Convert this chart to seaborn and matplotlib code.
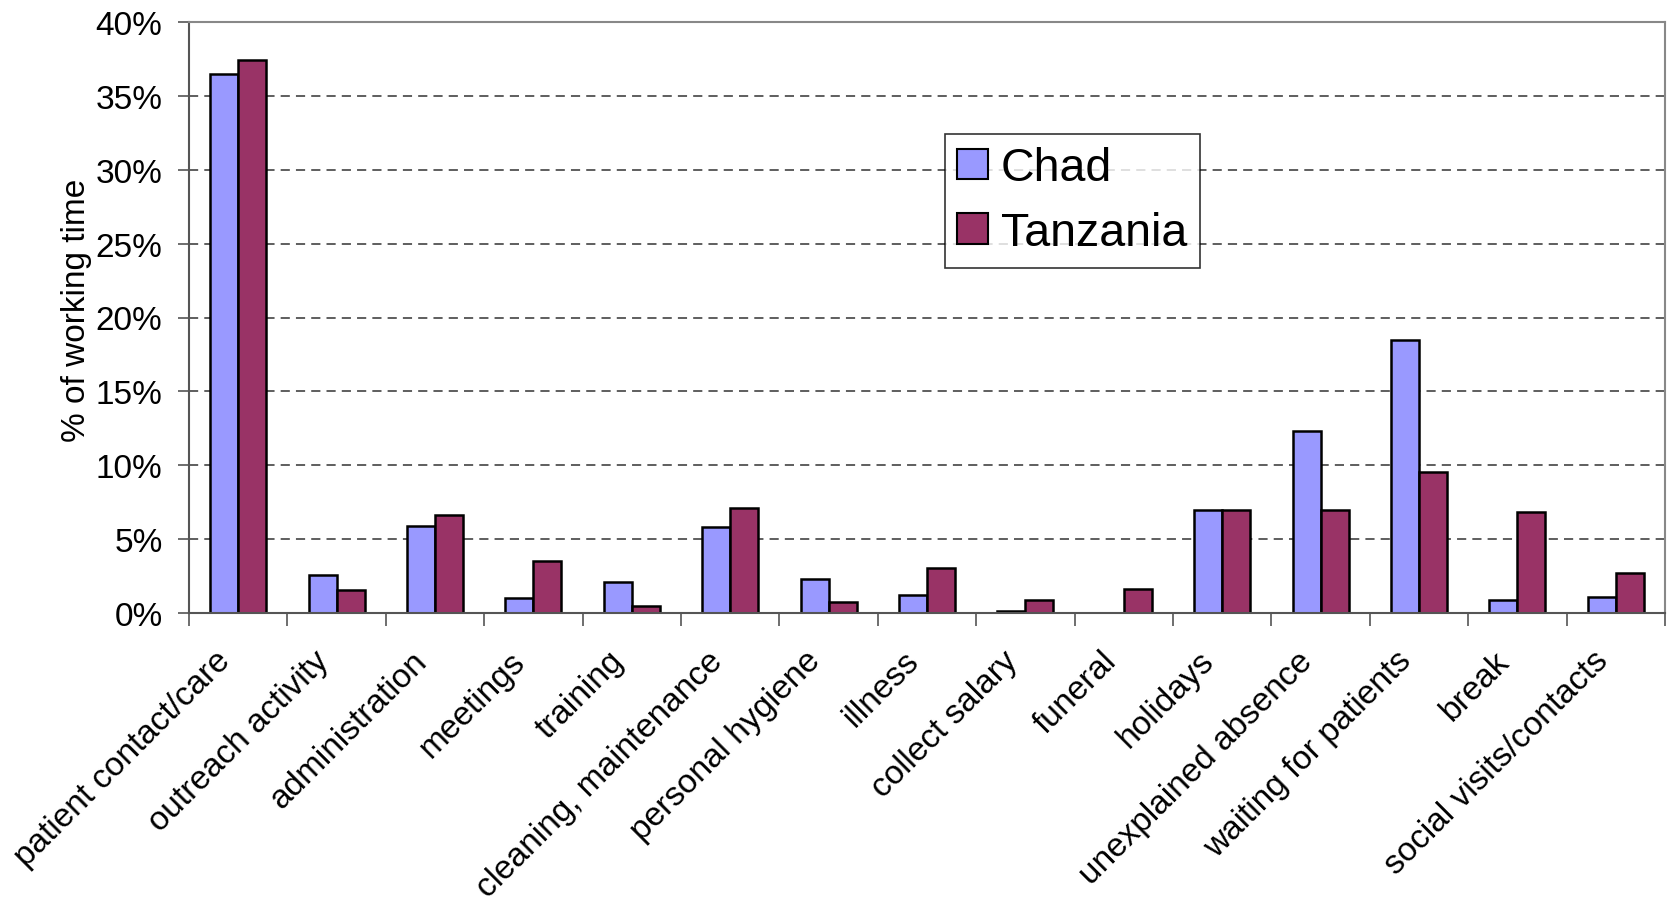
import matplotlib
matplotlib.use("Agg")
import matplotlib.pyplot as plt
import matplotlib.ticker as mticker
import matplotlib.transforms as mtransforms
from matplotlib.patches import Patch
import numpy as np
import pandas as pd
import seaborn as sns

categories = [
    "patient contact/care", "outreach activity", "administration", "meetings",
    "training", "cleaning, maintenance", "personal hygiene", "illness",
    "collect salary", "funeral", "holidays", "unexplained absence",
    "waiting for patients", "break", "social visits/contacts",
]
chad = [36.5, 2.6, 5.9, 1.0, 2.1, 5.8, 2.3, 1.2, 0.15, 0.0, 7.0, 12.3, 18.5, 0.9, 1.05]
tanzania = [37.4, 1.55, 6.65, 3.5, 0.45, 7.1, 0.75, 3.05, 0.9, 1.65, 7.0, 7.0, 9.55, 6.85, 2.7]
countries = ["Chad", "Tanzania"]
colors = ["#9999FF", "#993366"]

df = pd.DataFrame({
    "activity": categories * 2,
    "country": [countries[0]] * len(categories) + [countries[1]] * len(categories),
    "share": chad + tanzania,
})

sns.set_theme(style="white")
plt.rcParams["font.family"] = ["Liberation Sans", "DejaVu Sans"]
plt.rcParams["text.color"] = "black"
plt.rcParams["axes.labelcolor"] = "black"
plt.rcParams["xtick.color"] = "black"
plt.rcParams["ytick.color"] = "black"

fig, ax = plt.subplots(figsize=(16.74, 9.03), dpi=100)
fig.subplots_adjust(left=189 / 1674, right=1665 / 1674, top=1 - 23 / 903, bottom=1 - 614 / 903)

sns.barplot(
    data=df, x="activity", y="share", hue="country", order=categories,
    hue_order=countries, palette=colors, width=0.57, saturation=1,
    edgecolor="black", linewidth=1.8, ax=ax, legend=False, errorbar=None,
)

n = len(categories)
ax.set_xlim(-0.5, n - 0.5)
ax.set_ylim(0, 40)
ax.yaxis.set_major_locator(mticker.MultipleLocator(5))
ax.yaxis.set_major_formatter(mticker.PercentFormatter(decimals=0))

# boundary ticks between groups, labels at group centres
ax.set_xticks(np.arange(-0.5, n, 1.0))
ax.set_xticklabels([])
ax.set_xticks(np.arange(n), minor=True)
ax.set_xticklabels(categories, minor=True, rotation=45, ha="right", va="top",
                   rotation_mode="anchor", fontsize=24)
ax.tick_params(axis="x", which="major", direction="out", length=9, width=1.2,
               color="#555555", bottom=True)
ax.tick_params(axis="x", which="minor", length=0, pad=23, labelcolor="black")
ax.tick_params(axis="y", direction="out", length=8, width=1.2, color="#555555",
               left=True, labelsize=24, pad=11, labelcolor="black")
# nudge the slanted category labels to the left
shift = mtransforms.ScaledTranslation(-17 / 72, 0, fig.dpi_scale_trans)
for lbl in ax.get_xticklabels(minor=True):
    lbl.set_transform(lbl.get_transform() + shift)

for y in range(5, 40, 5):
    ax.axhline(y, color="#333333", linestyle=(0, (6, 4)), linewidth=1.1, zorder=0)

for side in ["left", "bottom"]:
    ax.spines[side].set_color("#555555")
    ax.spines[side].set_linewidth(1.5)
for side in ["top", "right"]:
    ax.spines[side].set_color("#888888")
    ax.spines[side].set_linewidth(1.5)

ax.set_xlabel("")
ax.set_ylabel("% of working time", fontsize=24, color="black")
ax.yaxis.set_label_coords(-0.066, 0.514)

handles = [Patch(facecolor=c, edgecolor="black", linewidth=1.5, label=l)
           for c, l in zip(colors, countries)]
leg = ax.legend(handles=handles, loc="upper left", bbox_to_anchor=(0.512, 0.811),
                fontsize=33.5, frameon=True, fancybox=False, handlelength=0.66,
                handleheight=0.64, handletextpad=0.28, borderpad=0.27,
                labelspacing=0.45, borderaxespad=0)
leg.get_frame().set_edgecolor("black")
leg.get_frame().set_linewidth(1.2)
for t in leg.get_texts():
    t.set_color("black")

fig.savefig("out.png", dpi=100)
